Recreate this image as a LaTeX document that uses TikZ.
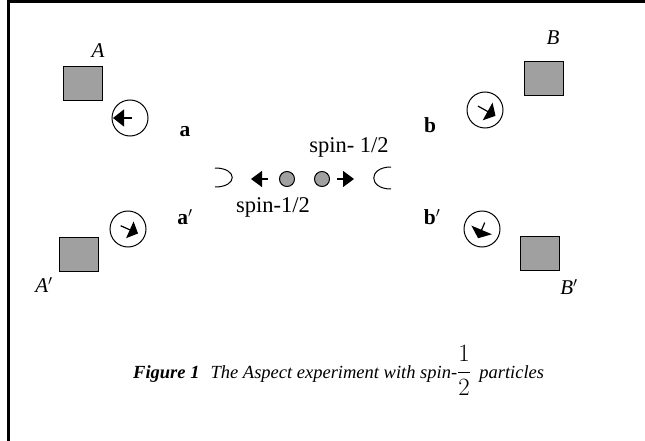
\documentclass[tikz,border=0pt]{standalone}
\usepackage{fontspec}
\setmainfont{Liberation Serif}
\usetikzlibrary{arrows.meta,calc}
\definecolor{boxgray}{RGB}{160,160,160}
\tikzset{
  detbox/.style={draw=black, line width=0.8pt, fill=boxgray, inner sep=0pt, minimum width=39pt, minimum height=34pt},
  polcirc/.style={circle, draw=black, line width=1pt, inner sep=0pt, minimum size=36pt},
  particle/.style={circle, draw=black, line width=1pt, fill=boxgray, minimum size=15pt, inner sep=0pt},
  capital/.style={font=\fontsize{21}{24}\selectfont\itshape, inner sep=0pt},
  setting/.style={font=\fontsize{21.5}{24}\selectfont\bfseries, inner sep=0pt},
  spinlabel/.style={font=\fontsize{22.5}{26}\selectfont, inner sep=0pt},
  shaft/.style={line width=1.2pt},
  lens/.style={line width=1pt},
  frameline/.style={line width=3pt},
}
\begin{document}
\begin{tikzpicture}[x=1pt,y=-1pt]
\useasboundingbox (0,0) rectangle (645,441);
% frame (top and left edges)
\draw[frameline] (8.5,441) -- (8.5,2) -- (645,2);
% detectors
\node[detbox] (dA)  at (82.5,83) {};
\node[detbox] (dAp) at (78.5,254.5) {};
\node[detbox] (dB)  at (543.5,78.5) {};
\node[detbox] (dBp) at (540,253.5) {};
\node[capital] (lA)  at (98,51) {A};
\node[capital] (lAp) at (44,285) {A$'$};
\node[capital] (lB)  at (553,38) {B};
\node[capital] (lBp) at (569,287) {B$'$};
% polarizers
\node[polcirc] (pA)  at (130,118) {};
\node[polcirc] (pAp) at (128,229) {};
\node[polcirc] (pB)  at (485,110) {};
\node[polcirc] (pBp) at (482,229) {};
\draw[shaft,-{Triangle[length=11pt,width=17pt]}] ($(pA)+(180:-2)$) -- ($(pA)+(180:17)$);
\draw[shaft,-{Triangle[length=9pt,width=18pt]}] ($(pAp)+(24:-8)$) -- ($(pAp)+(24:11)$);
\draw[shaft,-{Triangle[length=9pt,width=20pt]}] ($(pB)+(29:-8)$) -- ($(pB)+(29:12)$);
\draw[shaft,-{Triangle[length=9pt,width=22pt]}] ($(pBp)+(113:-7)$) -- ($(pBp)+(113:10)$);
% setting labels
\node[setting] (la)  at (185,132) {a};
\node[setting] (lap) at (185,217) {a$'$};
\node[setting] (lb)  at (430,125) {b};
\node[setting] (lbp) at (432,217) {b$'$};
% source
\draw[lens] (215,168) .. controls (238,168) and (238,187) .. (215,187);
\draw[lens] (391,167) .. controls (368,167) and (368,189) .. (391,189);
\node[particle] (q1) at (287,179) {};
\node[particle] (q2) at (322,179) {};
\coordinate (s1) at (268,179);
\coordinate (t1) at (251,179);
\coordinate (s2) at (337,179);
\coordinate (t2) at (354,179);
\draw[shaft,-{Triangle[length=11pt,width=16pt]}] (s1) -- (t1);
\draw[shaft,-{Triangle[length=11pt,width=16pt]}] (s2) -- (t2);
\node[spinlabel] (su) at (349,147) {spin- 1/2};
\node[spinlabel] (sl) at (273,207) {spin-1/2};
% caption
\node[anchor=base west, inner sep=0pt, font=\fontsize{18.5}{22}\selectfont] (cap) at (133,378)
  {\textbf{\textit{Figure 1}}\hspace{0.6em}\textit{The Aspect experiment with spin-}{\fontsize{23}{26}\selectfont$\displaystyle\frac{1}{2}$}\hspace{0.45em}\textit{particles}};
\end{tikzpicture}
\end{document}
